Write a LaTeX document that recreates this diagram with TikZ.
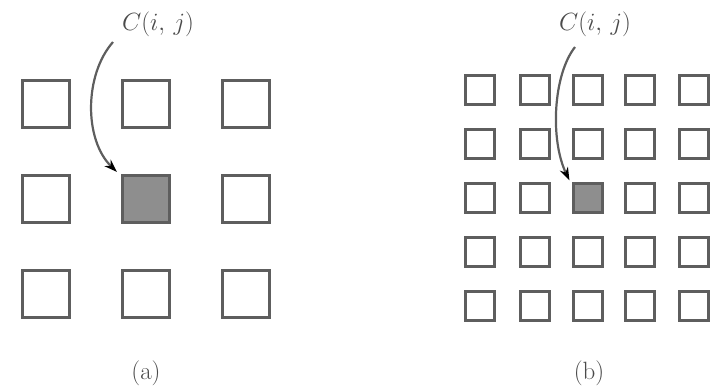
\documentclass[tikz,border=0pt]{standalone}
\usetikzlibrary{arrows.meta}
\definecolor{boxline}{HTML}{5E5E5E}
\definecolor{boxfill}{HTML}{8E8E8E}
\definecolor{txt}{HTML}{4A4A4A}
\tikzset{
  bigbox/.style={draw=boxline, line width=2.6pt, minimum size=47.5pt, inner sep=0pt, fill=white},
  smallbox/.style={draw=boxline, line width=2.6pt, minimum size=28.5pt, inner sep=0pt, fill=white},
  marked/.style={fill=boxfill},
  lbl/.style={text=txt, inner sep=0pt, font=\fontsize{32}{36}\selectfont},
  captxt/.style={text=txt, inner sep=0pt, font=\fontsize{25}{29}\selectfont},
  pointer/.style={draw=boxline, line width=2.2pt, -{Stealth[length=13pt,width=9pt,black]}}
}
\begin{document}
\begin{tikzpicture}[x=1pt,y=-1pt]
\useasboundingbox (0,0) rectangle (715,386);
% (a)
\foreach \r/\yy in {1/104,2/199,3/294}{
  \foreach \c/\xx in {1/46,2/146,3/246}{
    \node[bigbox] (a\r\c) at (\xx,\yy) {};
  }
}
\node[bigbox, marked] at (a22) {};
\node[lbl] (la) at (158,24) {$C(i,\,j)$};
\draw[pointer] (113,42) .. controls (84,75) and (84,140) .. ([shift={(-4pt,2pt)}]a22.north west);
\node[captxt] (ca) at (146,373) {(a)};
% (b)
\foreach \r/\yy in {1/90,2/144,3/198,4/252,5/306}{
  \foreach \c/\xx in {1/480,2/535,3/588,4/640,5/694}{
    \node[smallbox] (b\r\c) at (\xx,\yy) {};
  }
}
\node[smallbox, marked] at (b33) {};
\node[lbl] (lb) at (595,24) {$C(i,\,j)$};
\draw[pointer] (575,47) .. controls (553,75) and (550,140) .. ([shift={(-3pt,2pt)}]b33.north west);
\node[captxt] (cb) at (589,373) {(b)};
\end{tikzpicture}
\end{document}
